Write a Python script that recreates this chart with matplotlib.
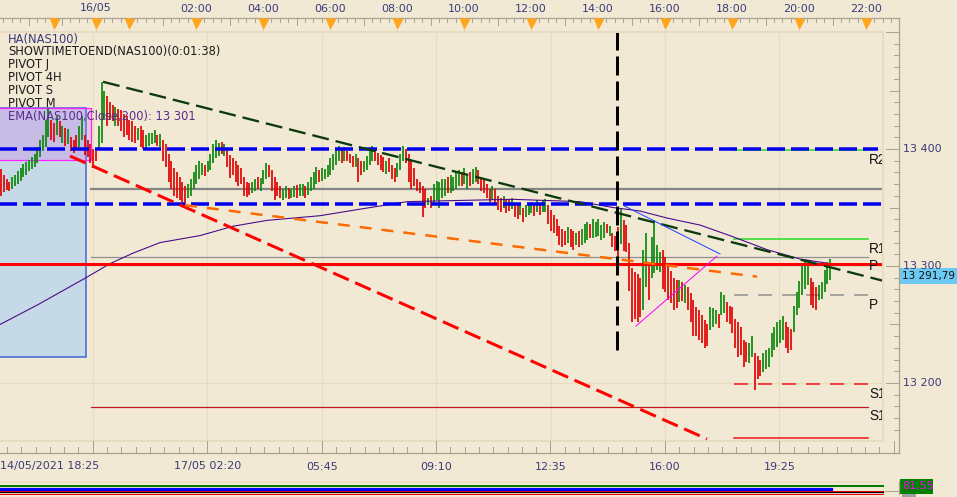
import numpy as np
import matplotlib.pyplot as plt
from matplotlib.lines import Line2D
from matplotlib.patches import Rectangle
import matplotlib.transforms as mtransforms

plt.rcParams['lines.scale_dashes'] = False
plt.rcParams['font.family'] = ['DejaVu Sans']

# ---- data -------------------------------------------------------------
# time axis in hours from 17/05 00:00 (session clock), bars every 5 min
bar_start = -3.82
bar_step = 5 / 60

highs = [13383, 13378, 13374, 13372, 13376, 13378, 13381, 13384, 13387, 13389,
         13391, 13393, 13396, 13402, 13408, 13412, 13425, 13435, 13425, 13422,
         13428, 13424, 13420, 13418, 13417, 13410, 13408, 13412, 13420, 13428,
         13412, 13408, 13404, 13400, 13398, 13420, 13457, 13450, 13445, 13440,
         13438, 13436, 13434, 13433, 13430, 13428, 13425, 13424, 13420, 13418,
         13420, 13416, 13412, 13414, 13414, 13416, 13412, 13413, 13408, 13404,
         13396, 13390, 13384, 13380, 13376, 13372, 13368, 13370, 13374, 13380,
         13386, 13390, 13388, 13386, 13390, 13396, 13404, 13408, 13405, 13406,
         13404, 13400, 13395, 13392, 13390, 13386, 13384, 13376, 13372, 13371,
         13372, 13374, 13376, 13375, 13382, 13388, 13386, 13382, 13376, 13372,
         13368, 13366, 13368, 13367, 13366, 13368, 13369, 13370, 13370, 13368,
         13372, 13376, 13380, 13385, 13382, 13384, 13383, 13386, 13392, 13396,
         13400, 13403, 13400, 13402, 13398, 13396, 13394, 13396, 13392, 13390,
         13390, 13394, 13398, 13403, 13400, 13397, 13395, 13393, 13390, 13392,
         13386, 13384, 13388, 13396, 13403, 13400, 13396, 13390, 13384, 13374,
         13372, 13368, 13366, 13358, 13360, 13370, 13373, 13372, 13374, 13374,
         13376, 13378, 13376, 13380, 13382, 13380, 13384, 13378, 13380, 13383,
         13385, 13382, 13376, 13374, 13370, 13366, 13368, 13366, 13360, 13358,
         13360, 13356, 13357, 13358, 13354, 13352, 13354, 13350, 13352, 13354,
         13355, 13353, 13356, 13354, 13356, 13357, 13352, 13348, 13344, 13340,
         13334, 13332, 13330, 13333, 13332, 13330, 13328, 13330, 13332, 13336,
         13338, 13336, 13340, 13338, 13340, 13335, 13338, 13336, 13334, 13328,
         13326, 13333, 13350, 13339, 13335, 13320, 13298, 13295, 13293, 13290,
         13314, 13328, 13302, 13325, 13339, 13318, 13312, 13314, 13308, 13302,
         13296, 13290, 13288, 13288, 13286, 13284, 13282, 13277, 13271, 13265,
         13262, 13258, 13254, 13250, 13265, 13264, 13262, 13259, 13278, 13275,
         13269, 13266, 13265, 13255, 13252, 13248, 13237, 13235, 13234, 13240,
         13226, 13223, 13220, 13226, 13228, 13230, 13243, 13248, 13252, 13254,
         13257, 13252, 13248, 13246, 13266, 13278, 13287, 13301, 13303, 13305,
         13290, 13286, 13282, 13284, 13286, 13297, 13303, 13306]

lows = [13360, 13363, 13365, 13364, 13366, 13368, 13370, 13373, 13376, 13378,
        13381, 13383, 13385, 13388, 13393, 13398, 13402, 13410, 13408, 13406,
        13412, 13410, 13405, 13403, 13404, 13398, 13397, 13400, 13402, 13408,
        13395, 13393, 13388, 13384, 13390, 13399, 13405, 13425, 13420, 13425,
        13424, 13420, 13420, 13415, 13410, 13412, 13408, 13406, 13405, 13408,
        13402, 13400, 13401, 13403, 13404, 13405, 13403, 13402, 13390, 13385,
        13372, 13366, 13360, 13358, 13356, 13355, 13352, 13358, 13360, 13366,
        13370, 13374, 13378, 13377, 13380, 13382, 13388, 13392, 13394, 13396,
        13394, 13385, 13375, 13378, 13372, 13368, 13370, 13360, 13359, 13361,
        13362, 13364, 13366, 13364, 13370, 13374, 13376, 13364, 13356, 13360,
        13358, 13356, 13358, 13357, 13358, 13359, 13358, 13360, 13360, 13358,
        13361, 13364, 13366, 13370, 13372, 13373, 13374, 13376, 13378, 13382,
        13386, 13390, 13388, 13390, 13390, 13388, 13385, 13385, 13372, 13378,
        13380, 13382, 13386, 13390, 13390, 13386, 13382, 13380, 13379, 13380,
        13374, 13372, 13376, 13382, 13390, 13388, 13372, 13366, 13368, 13364,
        13362, 13342, 13350, 13352, 13350, 13352, 13356, 13350, 13358, 13360,
        13362, 13362, 13364, 13366, 13368, 13368, 13370, 13366, 13368, 13370,
        13372, 13370, 13364, 13362, 13358, 13355, 13356, 13354, 13348, 13346,
        13350, 13345, 13347, 13349, 13342, 13340, 13344, 13338, 13342, 13344,
        13345, 13343, 13346, 13344, 13346, 13346, 13336, 13330, 13328, 13326,
        13318, 13316, 13318, 13320, 13316, 13314, 13318, 13316, 13318, 13320,
        13322, 13324, 13324, 13325, 13326, 13322, 13324, 13328, 13326, 13316,
        13313, 13295, 13319, 13313, 13312, 13279, 13252, 13255, 13252, 13256,
        13262, 13282, 13271, 13290, 13294, 13297, 13295, 13280, 13278, 13271,
        13268, 13262, 13264, 13269, 13270, 13268, 13262, 13252, 13240, 13240,
        13237, 13234, 13230, 13232, 13245, 13248, 13250, 13247, 13258, 13260,
        13252, 13250, 13243, 13230, 13222, 13224, 13214, 13218, 13217, 13222,
        13194, 13203, 13206, 13209, 13212, 13214, 13222, 13228, 13231, 13234,
        13237, 13230, 13226, 13228, 13244, 13258, 13264, 13275, 13280, 13284,
        13267, 13264, 13262, 13271, 13272, 13278, 13285, 13288]

bar_dir = ("rrrrggg" "ggggg" "gggg" "gg" "rrgr" "grg" "rrr" "gg" "rrr" "rr"
           "gg" "gr" "rrgr" "rrrr" "rrg" "rrgg" "ggrg" "rr" "rr" "rrr" "rr"
           "gg" "ggg" "grg" "gggg" "rg" "rrr" "rrr" "rrr" "ggrg" "ggr" "rrr"
           "rggrggrg" "grgg" "ggrg" "ggg" "gggrg" "rrrg" "rr" "gg" "ggr"
           "rrrgr" "rrg" "ggr" "rrr" "rr" "rr" "gr" "gggg" "grggg" "grg"
           "grggr" "rr" "rrgr" "rrgrrg" "rrgrg" "ggrgrgg" "rrrr" "rrrg"
           "rrgrg" "ggrgg" "gggrg"
           "rrrgrrrrrr" "rggrggggrr" "rrrrgrgrrr" "rrrrrgggrg" "grrrrrrrrg"
           "grrrgggggg" "ggrrrggggg" "grrrggggg")

ema_t = [-3.851, -2.716, -1.284, -0.567, 0.119, 0.925, 2.119, 3.104, 4.119,
         5.701, 6.985, 8.299, 9.791, 11.463, 12.478, 13.463, 14.448, 15.254,
         16.06, 17.045, 18.03, 19.045, 20.03, 20.925]
ema_v = [13250, 13267, 13290, 13302, 13311, 13320, 13326, 13334, 13339,
         13343, 13349, 13355, 13356, 13357, 13356, 13355, 13350, 13347,
         13341, 13335, 13325, 13314, 13306, 13302]

last_price = 13291.79
ema_last = "13 301"
osc_last = "81,55"

top_pos = [-1, 2, 4, 6, 8, 10, 12, 14, 16, 18, 20, 22]
top_lab = ["16/05", "02:00", "04:00", "06:00", "08:00", "10:00", "12:00",
           "14:00", "16:00", "18:00", "20:00", "22:00"]
marker_pos = [-2.25, -1, 0, 2, 4, 6, 8, 10, 12, 14, 16, 18, 20, 22]
bot_pos = [-1.083, 2.333, 5.75, 9.167, 12.583, 16.0, 19.417]
bot_lab = ["14/05/2021 18:25", "17/05 02:20", "05:45", "09:10", "12:35",
           "16:00", "19:25"]
price_ticks = [13400, 13300, 13200]

legend_lines = ["HA(NAS100)", "SHOWTIMETOEND(NAS100)(0:01:38)", "PIVOT J",
                "PIVOT 4H", "PIVOT S", "PIVOT M",
                "EMA(NAS100,Close,200): " + ema_last]

# ---- figure -------------------------------------------------------------
W, H = 957, 497
BG = '#F2E9D5'
GRID = '#E9DBBF'
RULE = '#A9A293'
NAVY = '#3B3B7A'
PX = 0.72  # points per pixel

fig = plt.figure(figsize=(W / 100, H / 100), dpi=100, facecolor=BG)


def fx(x):
    return x / W


def fy(y):
    return 1 - y / H


def fig_line(x0, y0, x1, y1, **kw):
    fig.add_artist(Line2D([fx(x0), fx(x1)], [fy(y0), fy(y1)],
                          transform=fig.transFigure, **kw))


ax = fig.add_axes([0, fy(441), fx(883), 410 / H])
ax.set_facecolor(BG)
ax.set_xlim(-3.851, 22.507)
ax.set_ylim(13150.4, 13500.9)
ax.axis('off')

tr_py = mtransforms.blended_transform_factory(fig.transFigure, ax.transData)
tr_tx = mtransforms.blended_transform_factory(ax.transData, fig.transFigure)

# grid
for t in bot_pos:
    ax.axvline(t, color=GRID, lw=1.3 * PX, zorder=0)
for p in price_ticks:
    ax.axhline(p, color=GRID, lw=1.3 * PX, zorder=0)

# zones
ax.add_patch(Rectangle((-3.9, 13222), -1.284 + 3.9, 13435 - 13222,
                       facecolor='#C6D9E7', edgecolor='#3C63E0',
                       lw=1.5 * PX, zorder=1))
ax.add_patch(Rectangle((-3.9, 13390.6), -1.134 + 3.9, 13435 - 13390.6,
                       facecolor=(0.78, 0.45, 0.9, 0.28), edgecolor='#FF20FF',
                       lw=1.2 * PX, zorder=1))

# horizontal levels
ax.plot([-1.134, 22.6], [13365.6, 13365.6], color='#858585', lw=2.2 * PX, zorder=2)
ax.plot([-1.134, 22.06], [13307.7, 13307.7], color='#8E8E8E', lw=1.2 * PX, zorder=2)
ax.plot([-1.134, 22.06], [13179.5, 13179.5], color='#C01818', lw=1.2 * PX, zorder=2)
ax.plot([18.06, 22.06], [13398.8, 13398.8], color='#22DD22', lw=1.5 * PX, zorder=2)
ax.plot([18.06, 22.06], [13322.8, 13322.8], color='#22DD22', lw=1.5 * PX, zorder=2)
ax.plot([18.06, 22.06], [13275, 13275], color='#8E8E8E', lw=1.5 * PX,
        dashes=(14 * PX, 10 * PX), zorder=2)
ax.plot([18.06, 22.06], [13199, 13199], color='#F01010', lw=1.5 * PX,
        dashes=(14 * PX, 10 * PX), zorder=2)
ax.plot([18.06, 22.06], [13153, 13153], color='#F01010', lw=1.5 * PX, zorder=2)

# bars
n = min(len(highs), len(lows), len(bar_dir))
times = bar_start + np.arange(n) * bar_step
cols = ['#0A870A' if c == 'g' else '#E00000' for c in bar_dir[:n]]
ax.vlines(times, lows[:n], highs[:n], colors=cols, lw=1.7 * PX, zorder=3)

# EMA
ax.plot(ema_t, ema_v, color='#4B0A8A', lw=1.1 * PX, zorder=4)

# drawn lines
ax.axhline(13302, color='#FF0000', lw=3 * PX, zorder=5)
ax.plot([-3.9, 22.36], [13400.4, 13400.4], color='#0000EE', lw=3.5 * PX,
        dashes=(18 * PX, 6 * PX), zorder=5)
ax.plot([-3.9, 22.6], [13353, 13353], color='#0000EE', lw=3.5 * PX,
        dashes=(18 * PX, 6 * PX), zorder=5)
ax.plot([-0.776, 22.507], [13457.5, 13287.4], color='#0B3A0B', lw=2.3 * PX,
        dashes=(17 * PX, 7 * PX), zorder=5)
ax.plot([-1.761, 17.254], [13394, 13152.1], color='#FF0000', lw=3 * PX,
        dashes=(17 * PX, 7 * PX), zorder=5)
ax.plot([1.672, 18.746], [13352, 13290.9], color='#FF6A00', lw=2.5 * PX,
        dashes=(12 * PX, 10 * PX), zorder=5)
ax.plot([14.567, 14.567], [13500.9, 13226.5], color='#000000', lw=3 * PX,
        dashes=(19 * PX, 6 * PX), zorder=5)
ax.plot([14.79, 17.642], [13351.3, 13310.3], color='#2040FF', lw=1.0 * PX, zorder=5)
ax.plot([15.134, 17.552], [13248.7, 13308.5], color='#FF00FF', lw=1.0 * PX, zorder=5)

# pivot labels
off = mtransforms.offset_copy(ax.transData, fig=fig, x=0, y=-2.5, units='dots')
for lab, p in [("R2", 13398.8), ("R1", 13322.8), ("P", 13307.7),
               ("P", 13275), ("S1", 13199), ("S1", 13179.5)]:
    ax.text(22.09, p, lab, transform=off, va='top', ha='left', fontsize=9.8,
            family=['Liberation Sans', 'DejaVu Sans'], color='#111111',
            clip_on=True, zorder=6)

# legend text
for k, s in enumerate(legend_lines):
    c = NAVY if k == 0 else ('#5A2A8C' if k == len(legend_lines) - 1 else '#1C1C1C')
    fig.text(fx(8), fy(39 + 12.95 * k), s, fontsize=8.3, color=c,
             va='center', ha='left', zorder=10)

# plot frame
fig_line(0, 31.5, 883, 31.5, color=GRID, lw=2 * PX)
fig_line(883, 31.5, 883, 441, color=GRID, lw=2 * PX)
fig_line(0, 441, 883, 441, color=GRID, lw=2 * PX)

# top ruler
fig_line(0, 18, 899, 18, color=RULE, lw=1.3 * PX)
for t in np.arange(-3.75, 23.0, 0.25):
    ln = 7 if abs(t - round(t)) < 1e-6 else 4
    fig.add_artist(Line2D([t, t], [fy(18), fy(18 + ln)], transform=tr_tx,
                          color=RULE, lw=1 * PX))
for t in marker_pos:
    fig.add_artist(Line2D([t, t], [fy(18), fy(31)], transform=tr_tx,
                          color='#E4D2B2', lw=1 * PX))
    fig.add_artist(Line2D([t], [fy(22.5)], transform=tr_tx, marker='v',
                          ms=9 * PX, mfc='#FFA51E', mec='#FFA51E', lw=0))
for t, s in zip(top_pos, top_lab):
    fig.text(t, fy(8.5), s, transform=tr_tx, fontsize=8, color=NAVY,
             ha='center', va='center')

# bottom ruler
fig_line(0, 453, 899, 453, color=RULE, lw=1.3 * PX)
step = (bot_pos[1] - bot_pos[0]) / 8
k0 = int(np.floor((-3.85 - bot_pos[0]) / step))
for k in range(k0, 80):
    t = bot_pos[0] + k * step
    if t > 22.98:
        break
    y0 = 441 if k % 8 == 0 else 447
    fig.add_artist(Line2D([t, t], [fy(y0), fy(453)], transform=tr_tx,
                          color=RULE, lw=1 * PX))
for t, s in zip(bot_pos[1:], bot_lab[1:]):
    fig.text(t, fy(466.5), s, transform=tr_tx, fontsize=8, color=NAVY,
             ha='center', va='center')
fig.text(fx(0), fy(466.5), bot_lab[0], fontsize=8, color=NAVY,
         ha='left', va='center')

# right price scale
fig_line(899, 18, 899, 453, color=RULE, lw=1.3 * PX)
for p in range(13160, 13501, 10):
    x0 = 886 if p % 100 == 0 else (890 if p % 50 == 0 else 894)
    fig.add_artist(Line2D([fx(x0), fx(899)], [p, p], transform=tr_py,
                          color=RULE, lw=1 * PX))
for p in price_ticks:
    fig.text(fx(903), p, "{:,}".format(p).replace(",", " "), transform=tr_py,
             fontsize=8, color=NAVY, ha='left', va='center')
fig.add_artist(Rectangle((fx(899.5), last_price - 8 * 0.8547), fx(60), 16 * 0.8547,
                         transform=tr_py, facecolor='#6CC9F4', edgecolor='none'))
fig.text(fx(901.5), last_price, "{:,.2f}".format(last_price).replace(",", " ").replace(".", ","),
         transform=tr_py, fontsize=7.5, color='#101010', ha='left', va='center')

# oscillator strip
fig_line(0, 481.5, 883, 481.5, color=GRID, lw=1.5 * PX)
fig_line(0, 485.5, 883, 485.5, color='#007A00', lw=2 * PX)
fig_line(0, 488.5, 831, 488.5, color='#0000FF', lw=3.2 * PX)
fig_line(0, 490.8, 883, 490.8, color='#FF0000', lw=1 * PX)
fig_line(0, 492.4, 883, 492.4, color='#000000', lw=1.3 * PX)
fig_line(0, 494, 883, 494, color='#FF0000', lw=1 * PX)
fig_line(899, 481, 899, 494, color=RULE, lw=1.3 * PX)
fig_line(885, 491, 899, 491, color=RULE, lw=1 * PX)
fig.add_artist(Rectangle((fx(900), fy(494)), fx(33), 15 / H,
                         transform=fig.transFigure, facecolor='#008000',
                         edgecolor='none'))
fig.add_artist(Rectangle((fx(902), fy(497)), fx(14), 3 / H,
                         transform=fig.transFigure, facecolor='#A0A0A0',
                         edgecolor='none'))
fig.text(fx(902), fy(486.5), osc_last, fontsize=8, color='#FF00FF',
         ha='left', va='center')

fig.savefig("out.png", dpi=100, facecolor=BG)
